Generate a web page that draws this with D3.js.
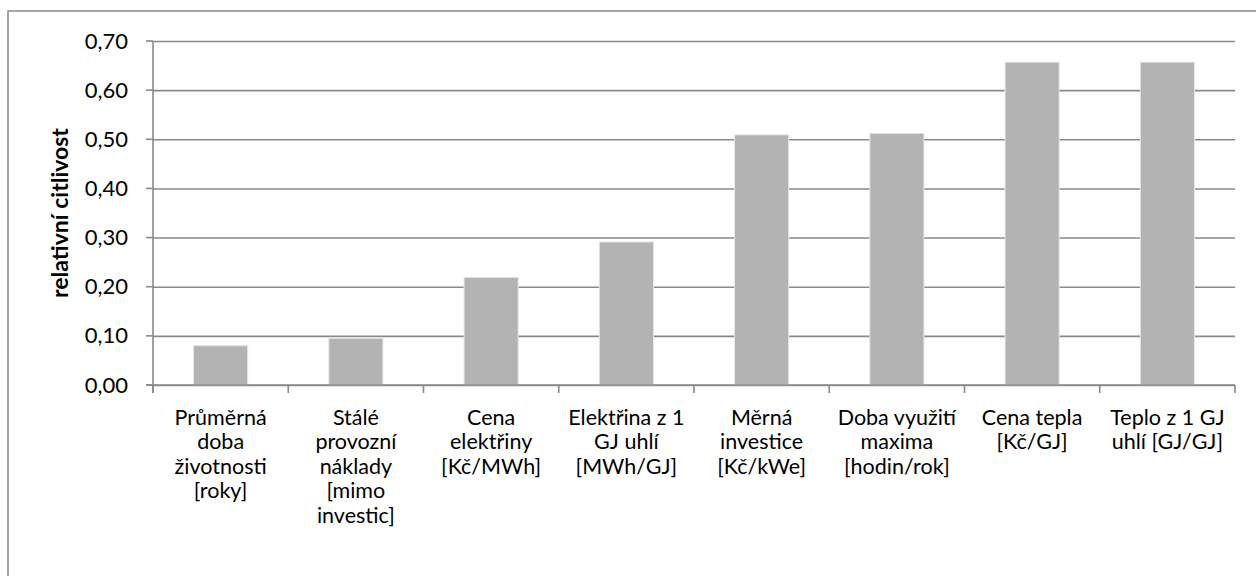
<!DOCTYPE html>
<html>
<head>
<meta charset="utf-8">
<script src="https://cdn.jsdelivr.net/npm/d3@7"></script>
<style>
  body { margin: 0; background: #fff; }
  svg { font-family: Lato, "Open Sans", sans-serif; }
</style>
</head>
<body>
<svg id="chart" width="1256" height="576"></svg>
<script>
// categories (label lines) and values
const categories = [
    ["Průměrná", "doba", "životnosti", "[roky]"],
    ["Stálé", "provozní", "náklady", "[mimo", "investic]"],
    ["Cena", "elektřiny", "[Kč/MWh]"],
    ["Elektřina z 1", "GJ uhlí", "[MWh/GJ]"],
    ["Měrná", "investice", "[Kč/kWe]"],
    ["Doba využití", "maxima", "[hodin/rok]"],
    ["Cena tepla", "[Kč/GJ]"],
    ["Teplo z 1 GJ", "uhlí [GJ/GJ]"]
];
const values = [0.08, 0.095, 0.219, 0.291, 0.509, 0.512, 0.657, 0.657];
const yTicks = [0, 0.1, 0.2, 0.3, 0.4, 0.5, 0.6, 0.7];
const yTitle = "relativní citlivost";

const svg = d3.select("#chart");
const margin = { top: 41, right: 21, bottom: 191, left: 153 };
const width = 1235 - margin.left;
const height = 385 - margin.top;

// outer chart frame
svg.append("rect")
    .attr("x", 8).attr("y", 11)
    .attr("width", 1260).attr("height", 600)
    .attr("fill", "none")
    .attr("stroke", "#888")
    .attr("stroke-width", 1.5);

const chart = svg.append("g")
    .attr("transform", `translate(${margin.left}, ${margin.top})`);

const x = d3.scaleBand()
    .domain(d3.range(categories.length))
    .range([0, width])
    .paddingInner(0.6)
    .paddingOuter(0.3);

const y = d3.scaleLinear()
    .domain([0, 0.7])
    .range([height, 0]);

const fmt = d => d3.format(".2f")(d).replace(".", ",");

// gridlines + y axis
chart.append("g")
    .call(d3.axisLeft(y).tickValues(yTicks).tickSize(-width).tickFormat(fmt).tickPadding(25))
    .call(g => g.select(".domain").remove())
    .call(g => g.selectAll(".tick line").attr("stroke", "#8a8a8a").attr("stroke-width", 1.6))
    .call(g => g.selectAll(".tick text")
        .attr("font-size", 22).attr("fill", "#000")
        .attr("font-family", "Lato, sans-serif"));

// small outer tick marks on y axis
chart.append("g")
    .selectAll("line")
    .data(yTicks)
    .join("line")
    .attr("x1", -7).attr("x2", 0)
    .attr("y1", d => y(d)).attr("y2", d => y(d))
    .attr("stroke", "#8a8a8a").attr("stroke-width", 1.6);

// bars
chart.append("g")
    .selectAll("rect")
    .data(values)
    .join("rect")
    .attr("x", (d, i) => x(i))
    .attr("y", d => y(d))
    .attr("width", x.bandwidth())
    .attr("height", d => height - y(d))
    .attr("fill", "#b3b3b3")
    .attr("stroke", "#e6e6e6")
    .attr("stroke-width", 1);

// y axis line
chart.append("line")
    .attr("x1", 0).attr("x2", 0)
    .attr("y1", 0).attr("y2", height + 8)
    .attr("stroke", "#8a8a8a").attr("stroke-width", 1.6);

// x axis line and category ticks
const step = width / categories.length;
chart.append("line")
    .attr("x1", -7).attr("x2", width)
    .attr("y1", height).attr("y2", height)
    .attr("stroke", "#8a8a8a").attr("stroke-width", 1.6);

chart.append("g")
    .selectAll("line")
    .data(d3.range(categories.length + 1))
    .join("line")
    .attr("x1", i => i * step).attr("x2", i => i * step)
    .attr("y1", height).attr("y2", height + 8)
    .attr("stroke", "#8a8a8a").attr("stroke-width", 1.6);

// category labels
const labels = chart.append("g")
    .selectAll("text")
    .data(categories)
    .join("text")
    .attr("x", (d, i) => x(i) + x.bandwidth() / 2)
    .attr("y", height + 40)
    .attr("text-anchor", "middle")
    .attr("font-size", 21.5)
    .attr("fill", "#000");

labels.selectAll("tspan")
    .data(d => d)
    .join("tspan")
    .attr("x", function () { return d3.select(this.parentNode).attr("x"); })
    .attr("dy", (d, i) => i === 0 ? 0 : 24.4)
    .text(d => d);

// y axis title
svg.append("text")
    .attr("transform", `translate(68, ${margin.top + height / 2}) rotate(-90)`)
    .attr("text-anchor", "middle")
    .attr("font-size", 23)
    .attr("font-weight", "bold")
    .attr("fill", "#000")
    .text(yTitle);
</script>
</body>
</html>
